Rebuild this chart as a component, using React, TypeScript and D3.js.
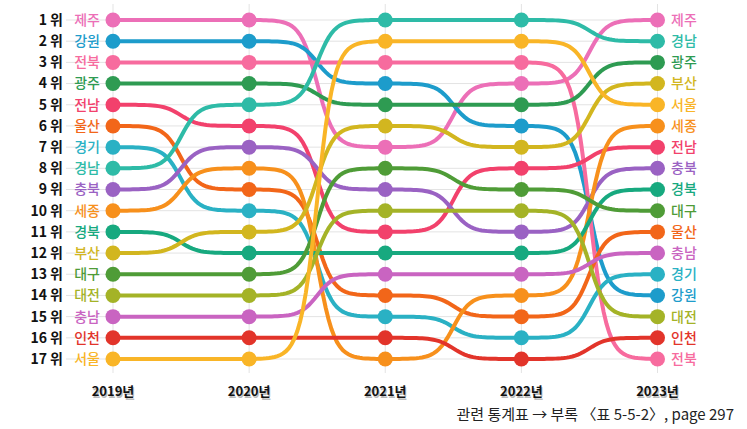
import { useEffect, useRef } from "react";
import * as d3 from "d3";

// years on the x axis
const years = ["2019년", "2020년", "2021년", "2022년", "2023년"];

// regions and their colour
const regions = ["제주", "강원", "전북", "광주", "전남", "울산", "경기", "경남", "충북",
  "세종", "경북", "부산", "대구", "대전", "충남", "인천", "서울"];
const colors = ["#ec6fb7", "#1d9ccb", "#f76b9e", "#2e9b52", "#f2416c", "#f26619", "#2ab1c4",
  "#2ebba7", "#9a62c3", "#f7901c", "#17a97f", "#d2b61f", "#4f9c37", "#a4b327", "#c964c1",
  "#e2342a", "#f9b527"];

// ranking order per year (1위 first)
const rank2019 = ["제주", "강원", "전북", "광주", "전남", "울산", "경기", "경남", "충북",
  "세종", "경북", "부산", "대구", "대전", "충남", "인천", "서울"];
const rank2020 = ["제주", "강원", "전북", "광주", "경남", "전남", "충북", "세종", "울산",
  "경기", "부산", "경북", "대구", "대전", "충남", "인천", "서울"];
const rank2021 = ["경남", "서울", "전북", "강원", "광주", "부산", "제주", "대구", "충북",
  "대전", "전남", "경북", "충남", "울산", "경기", "인천", "세종"];
const rank2022 = ["경남", "서울", "전북", "제주", "광주", "강원", "부산", "전남", "대구",
  "대전", "충북", "경북", "충남", "세종", "울산", "경기", "인천"];
const rank2023 = ["제주", "경남", "광주", "부산", "서울", "세종", "전남", "충북", "경북",
  "대구", "울산", "충남", "경기", "강원", "대전", "인천", "전북"];
const rankings = [rank2019, rank2020, rank2021, rank2022, rank2023];

const rankLabels = d3.range(1, 18).map(d => `${d} 위`);
const footnote = "관련 통계표 → 부록 〈표 5-5-2〉, page 297";

const W = 747, H = 429;
const FONT = "'Noto Sans CJK KR', 'Noto Sans', sans-serif";

// sigmoid bump curve (flat at each year, steep in between)
function curveSigmoid(context: any) {
  let px = 0, py = 0, started = false;
  const s = 8, n = 48;
  const lo = 1 / (1 + Math.exp(s)), hi = 1 / (1 + Math.exp(-s));
  return {
    areaStart() {}, areaEnd() {},
    lineStart() { started = false; },
    lineEnd() {},
    point(x: number, y: number) {
      if (!started) { context.moveTo(x, y); started = true; }
      else {
        for (let i = 1; i <= n; i++) {
          const t = i / n;
          const v = (1 / (1 + Math.exp(-(-s + 2 * s * t))) - lo) / (hi - lo);
          context.lineTo(px + (x - px) * t, py + (y - py) * v);
        }
      }
      px = x; py = y;
    },
  };
}

export default function App() {
  const ref = useRef<SVGSVGElement>(null);

  useEffect(() => {
    const svg = d3.select(ref.current);
    svg.selectAll("*").remove();

    const x = d3.scalePoint<string>().domain(years).range([113, 657.5]);
    const y = d3.scaleLinear().domain([1, 17]).range([20, 359]);
    const color = d3.scaleOrdinal<string, string>().domain(regions).range(colors);

    // grid
    const grid = svg.append("g").attr("stroke", "#e3e3e3").attr("stroke-width", 1);
    grid.selectAll(".h").data(d3.range(1, 18)).join("line")
      .attr("x1", 66).attr("x2", 660)
      .attr("y1", d => y(d)).attr("y2", d => y(d));
    grid.selectAll(".v").data(years).join("line")
      .attr("x1", d => x(d)!).attr("x2", d => x(d)!)
      .attr("y1", 4).attr("y2", 373);

    const series = regions.map(r => ({
      name: r,
      pts: years.map((yr, i) => ({ yr, rank: rankings[i].indexOf(r) + 1 })),
    }));

    const line = d3.line<{ yr: string; rank: number }>()
      .x(d => x(d.yr)!)
      .y(d => y(d.rank))
      .curve(curveSigmoid as any);

    svg.append("g").selectAll("path").data(series).join("path")
      .attr("d", d => line(d.pts))
      .attr("fill", "none")
      .attr("stroke", d => color(d.name))
      .attr("stroke-width", 4);

    svg.append("g").selectAll("g").data(series).join("g")
      .attr("fill", d => color(d.name))
      .selectAll("circle").data(d => d.pts).join("circle")
      .attr("cx", d => x(d.yr)!)
      .attr("cy", d => y(d.rank))
      .attr("r", 7.5);

    // left labels
    svg.append("g").selectAll("text").data(rankLabels).join("text")
      .attr("x", 63).attr("y", (d, i) => y(i + 1))
      .attr("dy", "0.35em").attr("text-anchor", "end")
      .attr("font-family", FONT).attr("font-size", 14).attr("font-weight", 700)
      .attr("fill", "#111").text(d => d);

    svg.append("g").selectAll("text").data(rank2019).join("text")
      .attr("x", 100).attr("y", (d, i) => y(i + 1))
      .attr("dy", "0.35em").attr("text-anchor", "end")
      .attr("font-family", FONT).attr("font-size", 14).attr("font-weight", 500)
      .attr("fill", d => color(d)).text(d => d);

    svg.append("g").selectAll("text").data(rank2023).join("text")
      .attr("x", 671).attr("y", (d, i) => y(i + 1))
      .attr("dy", "0.35em")
      .attr("font-family", FONT).attr("font-size", 14).attr("font-weight", 500)
      .attr("fill", d => color(d)).text(d => d);

    // x axis labels with a soft shadow
    const xl = svg.append("g").attr("font-family", FONT).attr("font-size", 13)
      .attr("font-weight", 700).attr("text-anchor", "middle");
    xl.selectAll(".s").data(years).join("text")
      .attr("x", d => x(d)! + 1).attr("y", 397.5).attr("fill", "#bbb").text(d => d);
    xl.selectAll(".t").data(years).join("text")
      .attr("x", d => x(d)!).attr("y", 396).attr("fill", "#111").text(d => d);

    svg.append("text")
      .attr("x", 734).attr("y", 420).attr("text-anchor", "end")
      .attr("font-family", FONT).attr("font-size", 15).attr("fill", "#222")
      .text(footnote);
  }, []);

  return (
    <div style={{ position: "absolute", left: 0, top: 0 }}>
      <svg ref={ref} width={W} height={H} style={{ display: "block", background: "#fff" }} />
    </div>
  );
}
